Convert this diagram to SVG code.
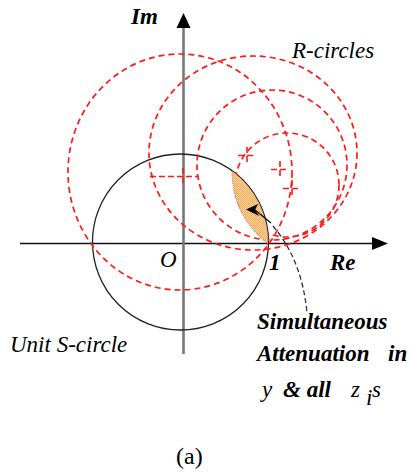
<svg xmlns="http://www.w3.org/2000/svg" width="414" height="472" viewBox="0 0 414 472">
<defs>
<style>
.rc{fill:none;stroke:#ff1a1a;stroke-width:1.7;stroke-dasharray:6 4}
.cr{fill:none;stroke:#ff1a1a;stroke-width:1.6;stroke-dasharray:6 3}
.t{font-family:"Liberation Serif","Times New Roman",serif;font-style:italic;font-size:23px;fill:#000}
.b{font-weight:bold}
</style>
<pattern id="dots" width="2" height="2" patternUnits="userSpaceOnUse">
<rect width="2" height="2" fill="#fdd7a4"/>
<rect width="1" height="1" fill="#f3a955"/>
<rect x="1" y="1" width="1" height="1" fill="#f3a955"/>
</pattern>
</defs>
<rect width="414" height="472" fill="#fff"/>

<g id="axes">
<line x1="20" y1="243.5" x2="374" y2="243.5" stroke="#111" stroke-width="1.6"/>
<polygon points="388,243.5 372,237 372,250" fill="#000"/>
<line x1="183.5" y1="26" x2="183.5" y2="354" stroke="#777" stroke-width="2.6"/>
<polygon points="183.5,13 176.5,28 190.5,28" fill="#000"/>
</g>

<g id="unit-circle">
<circle cx="180.5" cy="242" r="88" fill="none" stroke="#222" stroke-width="1.3"/>
</g>

<g id="r-circles">
<ellipse class="rc" cx="180" cy="172" rx="112" ry="118"/>
<ellipse class="rc" cx="253" cy="153" rx="104" ry="97"/>
<circle class="rc" cx="272" cy="165" r="75"/>
<circle class="rc" cx="287" cy="185" r="52"/>
<path class="cr" d="M150,176.5 H199 M183,168 V185"/>
<path class="cr" d="M238,155.5 H256 M247,147 V165"/>
<path class="cr" d="M271,169.5 H289 M280,161 V179"/>
<path class="cr" d="M283,188.5 H301 M292,180 V198"/>
</g>

<g id="region">
<path d="M232,171 A88,88 0 0 1 268,244 Q232,215 232,171 Z" fill="url(#dots)" stroke="#555" stroke-width="0.7" stroke-dasharray="1 1"/>
</g>

<g id="connectors">
<polygon points="246,209.5 258,204 255,210 259,216" fill="#000"/>
<line x1="255" y1="210" x2="271" y2="223" stroke="#000" stroke-width="1.2"/>
<path d="M273,226 Q302,260 307,313" fill="none" stroke="#333" stroke-width="1.3" stroke-dasharray="5 3"/>
</g>

<g id="labels">
<text class="t b" x="131" y="24" font-size="24">Im</text>
<text class="t" x="292" y="58">R-circles</text>
<text class="t" x="160" y="267">O</text>
<text class="t b" x="269" y="270">1</text>
<text class="t b" x="330" y="270">Re</text>
<text class="t" x="10" y="352">Unit S-circle</text>
<text class="t b" x="257" y="329">Simultaneous</text>
<text class="t b" x="257" y="361">Attenuation</text>
<text class="t b" x="388" y="361">in</text>
<text class="t" x="262" y="397">y</text>
<text class="t b" x="283" y="397">&amp; all</text>
<text class="t" x="351" y="397" font-size="26">z</text>
<text class="t" x="366" y="405" font-size="15">i</text>
<text class="t" x="372" y="397" font-size="26">s</text>
<text x="176" y="464" font-family="'Liberation Serif','Times New Roman',serif" font-size="24" fill="#000">(a)</text>
</g>
</svg>
